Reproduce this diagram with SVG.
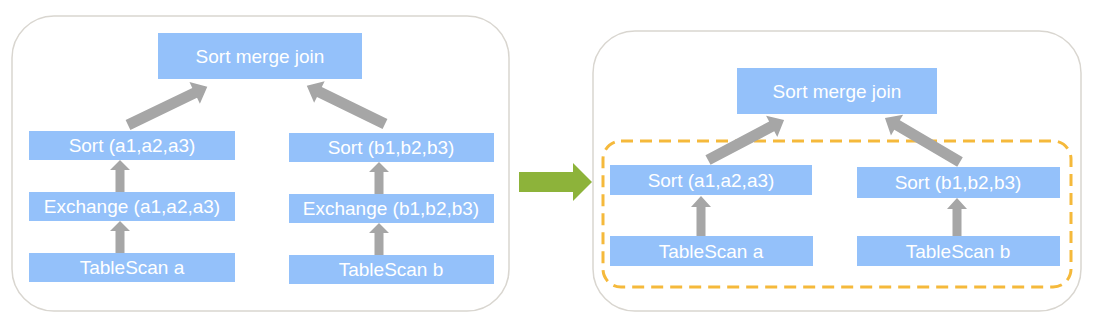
<svg xmlns="http://www.w3.org/2000/svg" width="1119" height="326" viewBox="0 0 1119 326">
<style>
.panel{fill:#fff;stroke:#d9d6d0;stroke-width:1.5}
.box{fill:#94c1fa}
.t{fill:#fff;font-family:"Liberation Sans",Arial,sans-serif;font-size:19px;text-anchor:middle;dominant-baseline:central}
.arr{fill:#a6a6a6}
</style>
<rect class="panel" x="12" y="16" width="497" height="295" rx="42"/>
<rect class="panel" x="593" y="31" width="488" height="280" rx="42"/>
<rect x="603" y="141" width="468" height="146" rx="18" fill="none" stroke="#f5b93b" stroke-width="3" stroke-dasharray="12 7"/>

<g id="connectors">
<path class="arr" transform="translate(128,125) rotate(-25.7)" d="M0,-5.5 H74 V-12 L88,0 L74,12 V5.5 H0 Z"/>
<path class="arr" transform="translate(385,124) rotate(-154)" d="M0,-5.5 H73 V-12 L87,0 L73,12 V5.5 H0 Z"/>
<path class="arr" transform="translate(120,253)" d="M-4.5,0 V-22 H-10 L0,-32 L10,-22 H4.5 V0 Z"/>
<path class="arr" transform="translate(120,192)" d="M-4.5,0 V-22 H-10 L0,-32 L10,-22 H4.5 V0 Z"/>
<path class="arr" transform="translate(379,255)" d="M-4.5,0 V-22 H-10 L0,-32 L10,-22 H4.5 V0 Z"/>
<path class="arr" transform="translate(379,194)" d="M-4.5,0 V-22 H-10 L0,-32 L10,-22 H4.5 V0 Z"/>
<path class="arr" transform="translate(708,160) rotate(-27.8)" d="M0,-5.5 H72 V-12 L86,0 L72,12 V5.5 H0 Z"/>
<path class="arr" transform="translate(960,162) rotate(-149.6)" d="M0,-5.5 H73 V-12 L87,0 L73,12 V5.5 H0 Z"/>
<path class="arr" d="M696.5,236 V207 H691 L701,196 L711,207 H705.5 V236 Z"/>
<path class="arr" d="M952.5,236 V209 H947 L957,198 L967,209 H961.5 V236 Z"/>
<path fill="#8db33a" d="M519,172 H573 V163 L592,182 L573,201 V192 H519 Z"/>
</g>

<g id="smj-left"><rect class="box" x="158" y="33" width="204" height="46"/><text class="t" x="260" y="56">Sort merge join</text></g>
<g id="sort-a-left"><rect class="box" x="29" y="131" width="206" height="29"/><text class="t" x="132" y="145.5">Sort (a1,a2,a3)</text></g>
<g id="exch-a"><rect class="box" x="29" y="192" width="206" height="29"/><text class="t" x="132" y="206.5">Exchange (a1,a2,a3)</text></g>
<g id="scan-a-left"><rect class="box" x="29" y="253" width="206" height="29"/><text class="t" x="132" y="267.5">TableScan a</text></g>
<g id="sort-b-left"><rect class="box" x="289" y="133" width="205" height="29"/><text class="t" x="391" y="147.5">Sort (b1,b2,b3)</text></g>
<g id="exch-b"><rect class="box" x="289" y="194" width="205" height="29"/><text class="t" x="391" y="208.5">Exchange (b1,b2,b3)</text></g>
<g id="scan-b-left"><rect class="box" x="289" y="255" width="205" height="29"/><text class="t" x="391" y="269.5">TableScan b</text></g>

<g id="smj-right"><rect class="box" x="737" y="68" width="200" height="46"/><text class="t" x="837" y="91">Sort merge join</text></g>
<g id="sort-a-right"><rect class="box" x="610" y="165" width="202" height="30"/><text class="t" x="711" y="180">Sort (a1,a2,a3)</text></g>
<g id="scan-a-right"><rect class="box" x="610" y="236" width="203" height="30"/><text class="t" x="711" y="251">TableScan a</text></g>
<g id="sort-b-right"><rect class="box" x="857" y="167" width="203" height="31"/><text class="t" x="958" y="182.5">Sort (b1,b2,b3)</text></g>
<g id="scan-b-right"><rect class="box" x="857" y="236" width="203" height="30"/><text class="t" x="958" y="251">TableScan b</text></g>
</svg>
